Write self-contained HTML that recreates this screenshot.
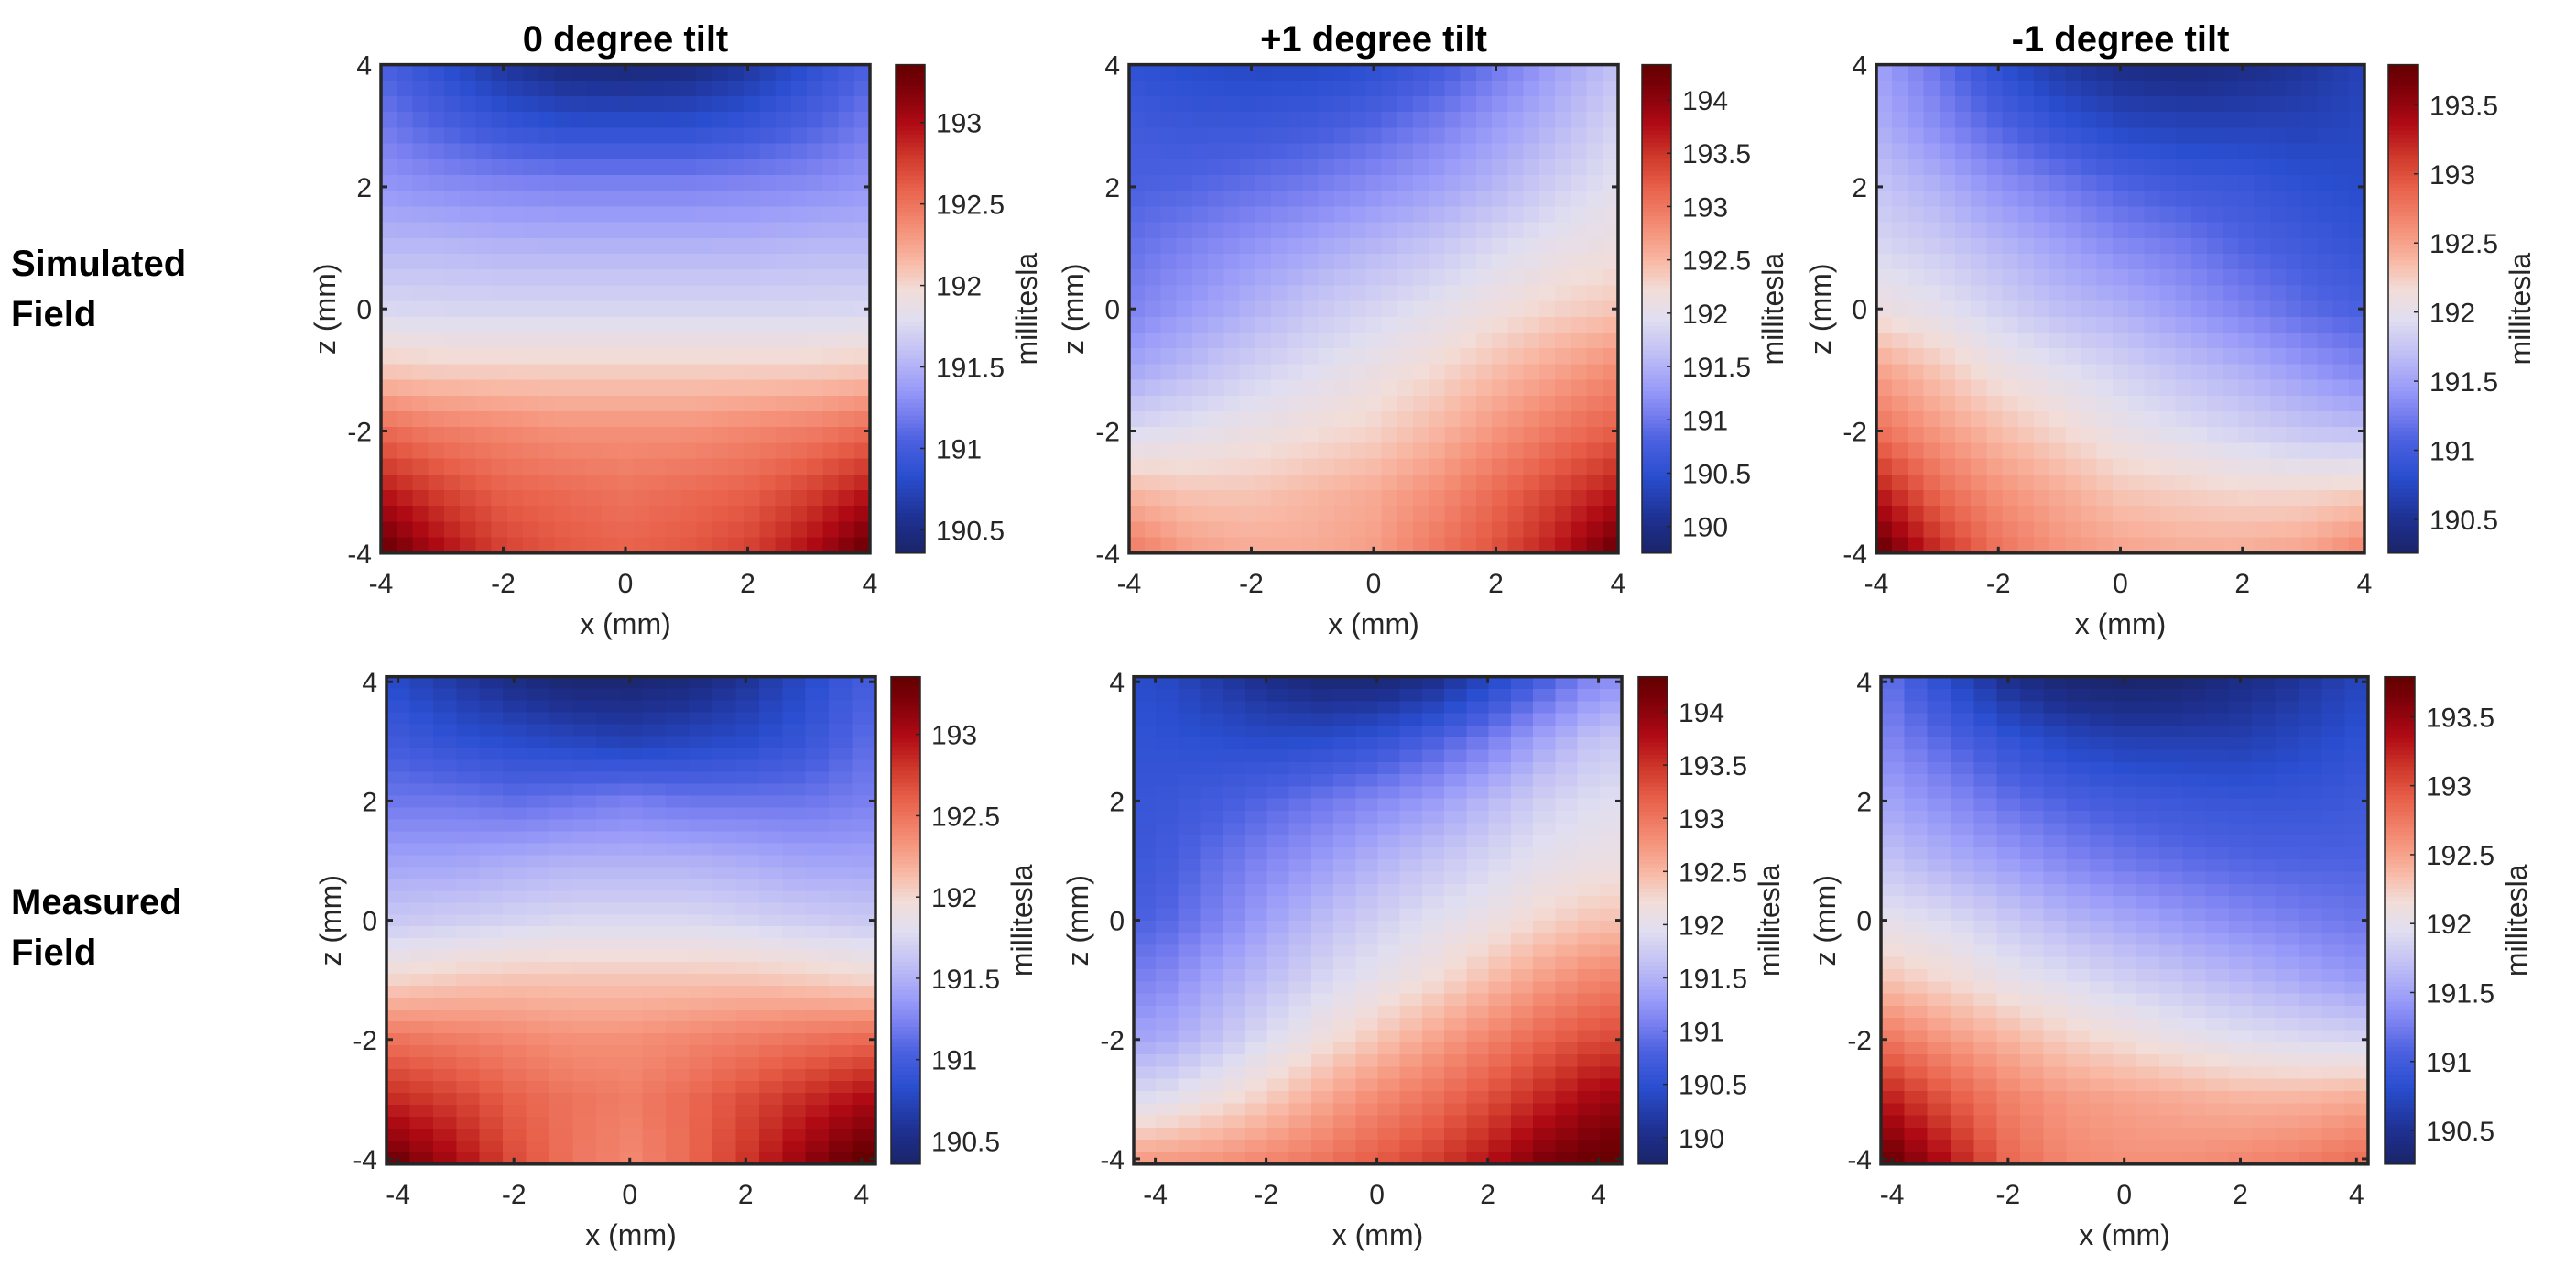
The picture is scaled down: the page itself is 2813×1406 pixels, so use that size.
<!DOCTYPE html>
<html><head><meta charset="utf-8"><title>Magnetic field maps</title>
<style>
html,body{margin:0;padding:0;background:#fff;}
body{width:2813px;height:1406px;overflow:hidden;}
svg{display:block;font-family:"Liberation Sans",Arial,sans-serif;}
</style></head>
<body>
<svg id="fig" width="2813" height="1406" viewBox="0 0 2813 1406" xmlns="http://www.w3.org/2000/svg">
  <text x="12" y="301" font-size="40" font-weight="bold" fill="#000">Simulated</text>
  <text x="12" y="356" font-size="40" font-weight="bold" fill="#000">Field</text>
  <text x="12" y="998" font-size="40" font-weight="bold" fill="#000">Measured</text>
  <text x="12" y="1053" font-size="40" font-weight="bold" fill="#000">Field</text>
</svg>
<script>
// grid sample positions (mm) for all coarse arrays
const gridX = [-4,-3,-2,-1,0,1,2,3,4];
const gridZ = [4,3,2,1,0,-1,-2,-3,-4];
const xTicks = [-4,-2,0,2,4];
const zTicks = [-4,-2,0,2,4];
const titles = ["0 degree tilt","+1 degree tilt","-1 degree tilt"];

// rows z=4..-4, cols x=-4..4, millitesla
const sim0 = [
[191.05,190.85,190.62,190.48,190.45,190.48,190.62,190.85,191.05],
[191.2,191.05,190.92,190.85,190.85,190.85,190.92,191.05,191.2],
[191.35,191.3,191.27,191.25,191.25,191.25,191.27,191.3,191.35],
[191.55,191.55,191.52,191.52,191.52,191.52,191.52,191.55,191.55],
[191.75,191.74,191.74,191.74,191.74,191.74,191.74,191.74,191.75],
[192.08,192.05,192.05,192.05,192.05,192.05,192.05,192.05,192.08],
[192.55,192.45,192.4,192.35,192.35,192.35,192.4,192.45,192.55],
[192.95,192.75,192.6,192.55,192.5,192.55,192.6,192.75,192.95],
[193.35,193.0,192.75,192.65,192.6,192.65,192.75,193.0,193.35]];
const simP1 = [
[190.55,190.45,190.4,190.4,190.5,190.7,191.0,191.35,191.65],
[190.7,190.65,190.65,190.72,190.85,191.05,191.3,191.55,191.85],
[190.8,190.85,190.95,191.05,191.2,191.35,191.55,191.8,192.0],
[190.95,191.1,191.25,191.4,191.55,191.7,191.9,192.05,192.15],
[191.1,191.3,191.5,191.7,191.85,192.0,192.15,192.3,192.4],
[191.4,191.6,191.8,191.95,192.1,192.25,192.45,192.65,192.85],
[191.9,192.0,192.1,192.2,192.3,192.5,192.75,193.0,193.2],
[192.5,192.4,192.4,192.5,192.6,192.8,193.1,193.4,193.7],
[193.0,192.7,192.6,192.6,192.7,193.0,193.3,193.7,194.3]];
const simM1 = [
[191.5,191.2,190.85,190.6,190.45,190.4,190.45,190.55,190.7],
[191.6,191.35,191.1,190.9,190.75,190.7,190.7,190.7,190.75],
[191.75,191.6,191.4,191.25,191.1,191.0,190.95,190.85,190.8],
[191.9,191.8,191.65,191.5,191.35,191.25,191.1,191.0,190.9],
[192.1,192.0,191.85,191.7,191.6,191.45,191.3,191.15,191.05],
[192.5,192.3,192.1,191.98,191.85,191.72,191.6,191.45,191.3],
[192.8,192.55,192.35,192.2,192.05,191.95,191.85,191.75,191.7],
[193.3,192.85,192.6,192.45,192.3,192.25,192.2,192.2,192.25],
[193.8,193.2,192.8,192.6,192.5,192.45,192.45,192.5,192.7]];
const meas0 = [
[190.8,190.65,190.52,190.42,190.42,190.47,190.6,190.8,191.0],
[190.98,190.88,190.82,190.77,190.72,190.77,190.82,190.92,191.1],
[191.18,191.18,191.13,191.17,191.22,191.17,191.17,191.17,191.22],
[191.42,191.42,191.47,191.5,191.5,191.5,191.47,191.42,191.42],
[191.65,191.68,191.72,191.76,191.76,191.76,191.72,191.68,191.65],
[192.02,192.07,192.1,192.1,192.1,192.1,192.1,192.07,192.02],
[192.5,192.45,192.4,192.35,192.35,192.4,192.45,192.5,192.55],
[192.85,192.75,192.6,192.5,192.45,192.55,192.7,192.85,193.0],
[193.25,193.0,192.7,192.5,192.4,192.55,192.8,193.1,193.35]];
const measP1 = [
[190.45,190.25,190.05,189.9,189.9,190.05,190.4,190.8,191.2],
[190.55,190.5,190.45,190.48,190.58,190.8,191.05,191.4,191.7],
[190.62,190.72,190.85,191.0,191.15,191.3,191.55,191.8,191.95],
[190.68,190.92,191.12,191.3,191.5,191.68,191.85,192.02,192.1],
[190.82,191.07,191.35,191.6,191.8,191.97,192.1,192.28,192.42],
[191.1,191.38,191.62,191.86,192.04,192.22,192.45,192.7,192.9],
[191.4,191.64,191.92,192.17,192.4,192.65,192.9,193.15,193.35],
[191.95,192.15,192.35,192.6,192.85,193.05,193.3,193.6,193.9],
[192.7,192.75,192.85,193.0,193.2,193.4,193.7,194.1,194.3]];
const measM1 = [
[191.15,190.8,190.5,190.33,190.3,190.32,190.45,190.55,190.72],
[191.3,191.1,190.9,190.75,190.68,190.67,190.67,190.75,190.85],
[191.5,191.35,191.18,191.07,191.0,190.95,190.93,190.92,190.97],
[191.72,191.58,191.46,191.32,191.22,191.15,191.1,191.08,191.08],
[192.0,191.92,191.78,191.64,191.54,191.44,191.35,191.28,191.22],
[192.3,192.18,192.04,191.94,191.84,191.75,191.65,191.55,191.45],
[192.75,192.55,192.4,192.25,192.15,192.05,191.97,191.92,191.88],
[193.25,192.95,192.7,192.55,192.5,192.45,192.4,192.4,192.45],
[193.7,193.3,192.85,192.65,192.6,192.6,192.65,192.7,192.8]];

// colour limits per column
const climLow = [190.357,189.75,190.256];
const climHigh = [193.355,194.33,193.79];
const cbTicks0 = [190.5,191,191.5,192,192.5,193];
const cbTicksP1 = [190,190.5,191,191.5,192,192.5,193,193.5,194];
const cbTicksM1 = [190.5,191,191.5,192,192.5,193,193.5];

const cmapStops=[[0,"#1a2466"],[0.07,"#1e3090"],[0.16,"#2a4ed0"],[0.23,"#4a60e0"],[0.29,"#7a80f0"],[0.34,"#9a9cf8"],[0.41,"#c0bff5"],[0.48,"#e0def0"],[0.54,"#f2ddd8"],[0.60,"#f8b8a4"],[0.665,"#f59078"],[0.75,"#e8604a"],[0.81,"#d03a2c"],[0.88,"#b00a14"],[0.96,"#780008"],[1,"#650000"]];
function hx(h){return [parseInt(h.substr(1,2),16),parseInt(h.substr(3,2),16),parseInt(h.substr(5,2),16)];}
function cmap(f){f=Math.max(0,Math.min(1,f));for(let i=1;i<cmapStops.length;i++){if(f<=cmapStops[i][0]){const a=cmapStops[i-1],b=cmapStops[i];const t=(f-a[0])/(b[0]-a[0]);const A=hx(a[1]),B=hx(b[1]);return "rgb("+A.map((v,k)=>Math.round(v+(B[k]-v)*t)).join(",")+")";}}return cmapStops[cmapStops.length-1][1];}
function sample(G,x,z){
  x=Math.max(-4,Math.min(4,x));z=Math.max(-4,Math.min(4,z));
  const c=x+4, r=4-z;
  const c0=Math.min(7,Math.floor(c)), r0=Math.min(7,Math.floor(r));
  const tc=c-c0, tr=r-r0;
  const a=G[r0][c0]*(1-tc)+G[r0][c0+1]*tc, b=G[r0+1][c0]*(1-tc)+G[r0+1][c0+1]*tc;
  return a*(1-tr)+b*tr;
}
const NS="http://www.w3.org/2000/svg";
const svg=document.getElementById("fig");
function mk(tag,attrs,parent){const e=document.createElementNS(NS,tag);for(const k in attrs)e.setAttribute(k,attrs[k]);(parent||svg).appendChild(e);return e;}

const panels=[
 {d:sim0,col:0,L:416,R:950,T:70.6,B:603.8,xmin:-4,xmax:4,zmin:-4,zmax:4,nx:31,nz:31,cbL:978,cbR:1010,tk:cbTicks0,title:true,name:"sim-0deg"},
 {d:simP1,col:1,L:1233,R:1767,T:70.6,B:603.8,xmin:-4,xmax:4,zmin:-4,zmax:4,nx:31,nz:31,cbL:1793,cbR:1825,tk:cbTicksP1,title:true,name:"sim-plus1deg"},
 {d:simM1,col:2,L:2049,R:2582,T:70.6,B:603.8,xmin:-4,xmax:4,zmin:-4,zmax:4,nx:31,nz:31,cbL:2608,cbR:2641,tk:cbTicksM1,title:true,name:"sim-minus1deg"},
 {d:meas0,col:0,L:422,R:956,T:738.7,B:1270.8,xmin:-4.2,xmax:4.24,zmin:-4.09,zmax:4.085,nx:21,nz:41,cbL:973,cbR:1005,tk:cbTicks0,title:false,name:"meas-0deg"},
 {d:measP1,col:1,L:1238,R:1771,T:738.7,B:1270.8,xmin:-4.39,xmax:4.42,zmin:-4.09,zmax:4.085,nx:22,nz:40,cbL:1789,cbR:1821,tk:cbTicksP1,title:false,name:"meas-plus1deg"},
 {d:measM1,col:2,L:2054,R:2586,T:738.7,B:1270.8,xmin:-4.19,xmax:4.2,zmin:-4.09,zmax:4.085,nx:21,nz:40,cbL:2604,cbR:2637,tk:cbTicksM1,title:false,name:"meas-minus1deg"}
];

panels.forEach(p=>{
  const g=mk("g",{});
  
  
  const sx=v=>p.L+(v-p.xmin)/(p.xmax-p.xmin)*(p.R-p.L);
  const sz=v=>p.B-(v-p.zmin)/(p.zmax-p.zmin)*(p.B-p.T);
  const lo=climLow[p.col], hi=climHigh[p.col];
  const cw=(p.xmax-p.xmin)/p.nx, ch=(p.zmax-p.zmin)/p.nz;
  const hm=mk("g",{"shape-rendering":"crispEdges"},g);
  
  
  for(let j=0;j<p.nz;j++){for(let i=0;i<p.nx;i++){
    const x0=p.xmin+i*cw, z1=p.zmax-j*ch;
    const v=sample(p.d,x0+cw/2,z1-ch/2);
    const r=mk("rect",{x:sx(x0).toFixed(2),y:sz(z1).toFixed(2),width:(sx(x0+cw)-sx(x0)+0.6).toFixed(2),height:(sz(z1-ch)-sz(z1)+0.6).toFixed(2),fill:cmap((v-lo)/(hi-lo))},hm);
    
    
  }}
  xTicks.forEach(t=>{
    const X=sx(t);
    mk("line",{x1:X,x2:X,y1:p.B,y2:p.B-7,stroke:"#262626","stroke-width":3},g);
    mk("line",{x1:X,x2:X,y1:p.T,y2:p.T+7,stroke:"#262626","stroke-width":3},g);
    const tl=mk("text",{x:X,y:p.B+43,"font-size":30,fill:"#262626","text-anchor":"middle"},g);
    tl.textContent=String(t);
    
    
  });
  zTicks.forEach(t=>{
    const Y=sz(t);
    mk("line",{x1:p.L,x2:p.L+7,y1:Y,y2:Y,stroke:"#262626","stroke-width":3},g);
    mk("line",{x1:p.R,x2:p.R-7,y1:Y,y2:Y,stroke:"#262626","stroke-width":3},g);
    const tl=mk("text",{x:p.L-10,y:Y+11,"font-size":30,fill:"#262626","text-anchor":"end"},g);
    tl.textContent=String(t);
    
    
  });
  const box=mk("rect",{x:p.L,y:p.T,width:p.R-p.L,height:p.B-p.T,fill:"none",stroke:"#262626","stroke-width":3.5},g);
  
  
  const xl=mk("text",{x:(p.L+p.R)/2,y:p.B+88,"font-size":32,fill:"#262626","text-anchor":"middle"},g);
  xl.textContent="x (mm)";
  
  
  const cy=(p.T+p.B)/2, zx=p.L-61;
  const zl=mk("text",{x:zx,y:cy,"font-size":32,fill:"#262626","text-anchor":"middle",transform:"rotate(-90 "+zx+" "+cy+") translate(0 11)"},g);
  zl.textContent="z (mm)";
  
  
  if(p.title){
    const tt=mk("text",{x:(p.L+p.R)/2,y:56,"font-size":40,"font-weight":"bold",fill:"#000","text-anchor":"middle"},g);
    tt.textContent=titles[p.col];
    
    
  }
  const cb=mk("g",{"shape-rendering":"crispEdges"},g);
  
  
  const N=120;
  for(let k=0;k<N;k++){
    const y0=p.B-(k+1)*(p.B-p.T)/N;
    mk("rect",{x:p.cbL,y:y0.toFixed(2),width:p.cbR-p.cbL,height:((p.B-p.T)/N+0.8).toFixed(2),fill:cmap((k+0.5)/N)},cb);
  }
  mk("rect",{x:p.cbL,y:p.T,width:p.cbR-p.cbL,height:p.B-p.T,fill:"none",stroke:"#262626","stroke-width":1.5},g);
  const cyv=v=>p.B-(v-lo)/(hi-lo)*(p.B-p.T);
  p.tk.forEach(t=>{
    const Y=cyv(t);
    mk("line",{x1:p.cbR,x2:p.cbR-5,y1:Y,y2:Y,stroke:"#262626","stroke-width":1.5},g);
    const tl=mk("text",{x:p.cbR+12,y:Y+11,"font-size":30,fill:"#262626"},g);
    tl.textContent=String(t);
    
    
  });
  const mx=p.cbR+111;
  const ml=mk("text",{x:mx,y:cy,"font-size":32,fill:"#262626","text-anchor":"middle",transform:"rotate(-90 "+mx+" "+cy+") translate(0 11)"},g);
  ml.textContent="millitesla";
  
  
});
</script>
</body></html>
